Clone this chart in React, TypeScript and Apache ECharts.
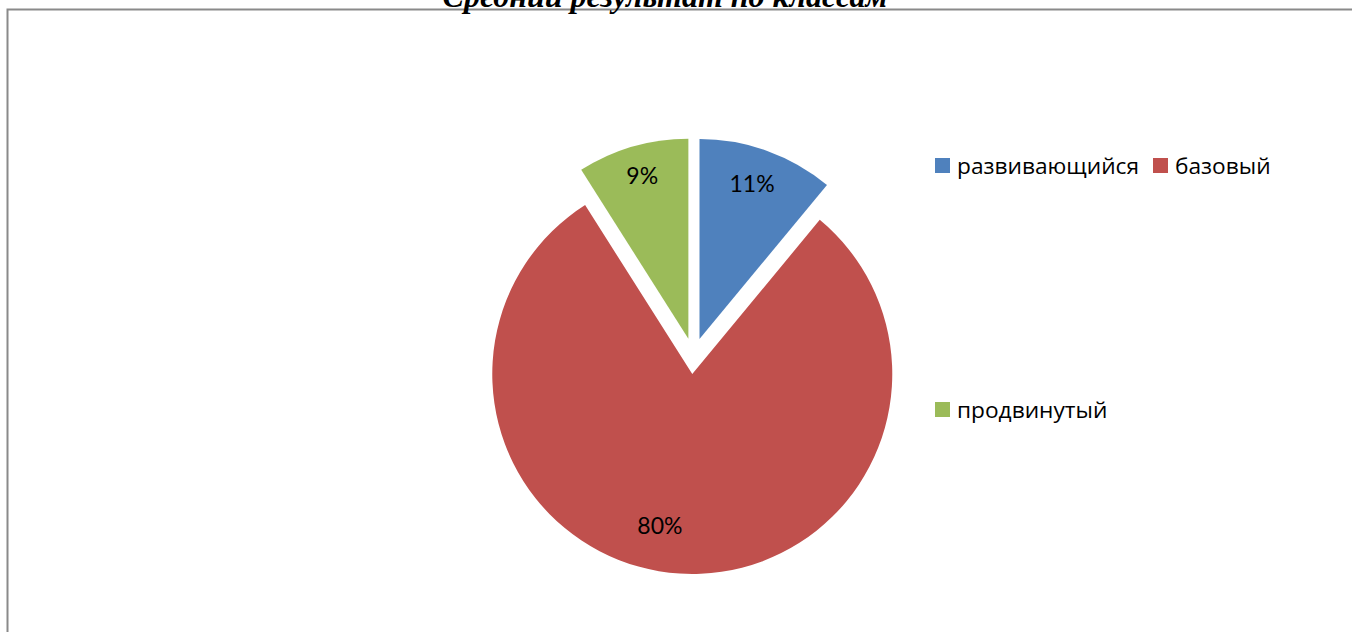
import React, { useEffect, useRef } from "react";
import * as echarts from "echarts";

const categories = ["развивающийся", "базовый", "продвинутый"];
const values = [11, 80, 9];
const colors = ["#4F81BD", "#C0504D", "#9BBB59"];
// label nudges: horizontal via box padding, vertical via a trailing blank line of given height
const labelPaddings = [[0, 7, 0, 0], [0, 44, 0, 0], [0, 0, 0, 0]];
const labelShiftLines = [0, 28, 9];
const legendRow1 = ["развивающийся", "базовый"];
const legendRow2 = ["продвинутый"];
const titleText = "Средний результат по классам";

export default function App() {
  const ref = useRef<HTMLDivElement>(null);
  useEffect(() => {
    if (!ref.current) return;
    const chart = echarts.init(ref.current, null, { renderer: "svg" });
    const font = "Open Sans";
    const legendText = { fontFamily: font, fontSize: 22.7, color: "#000", padding: [0, 0, 0, 2] };
    chart.setOption({
      animation: false,
      graphic: [
        {
          type: "rect",
          shape: { x: 7.5, y: 9.5, width: 2000, height: 2000 },
          style: { fill: "none", stroke: "#8a8a8a", lineWidth: 2 },
          silent: true,
        },
        {
          type: "text",
          x: 665,
          y: 11.7,
          style: {
            text: titleText,
            font: "italic bold 32px 'Liberation Serif'",
            fill: "#000",
            align: "center",
            verticalAlign: "bottom",
          },
          silent: true,
        },
      ],
      legend: [
        {
          data: legendRow1,
          left: 930,
          top: 149,
          orient: "horizontal",
          icon: "rect",
          itemWidth: 15,
          itemHeight: 15,
          itemGap: 14,
          textStyle: legendText,
          selectedMode: false,
        },
        {
          data: legendRow2,
          left: 930,
          top: 393,
          icon: "rect",
          itemWidth: 15,
          itemHeight: 15,
          textStyle: legendText,
          selectedMode: false,
        },
      ],
      series: [
        {
          type: "pie",
          center: [693.4, 356],
          radius: [0, 200],
          startAngle: 90,
          clockwise: true,
          selectedMode: "multiple",
          selectedOffset: 18,
          label: { show: false },
          labelLine: { show: false },
          emphasis: { disabled: true },
          data: categories.map((name, i) => ({
            name,
            value: values[i],
            selected: true,
            itemStyle: { color: colors[i] },
            select: { itemStyle: { color: colors[i] } },
          })),
        },
        {
          type: "pie",
          center: [693.4, 356],
          radius: [125, 200],
          startAngle: 90,
          clockwise: true,
          selectedMode: "multiple",
          selectedOffset: 18,
          silent: true,
          emphasis: { disabled: true },
          itemStyle: { color: "rgba(0,0,0,0)" },
          labelLine: { show: false },
          label: {
            show: true,
            position: "inside",
            formatter: "{d}%",
            fontFamily: "Lato",
            fontSize: 23,
            color: "#000",
          },
          data: categories.map((name, i) => ({
            name,
            value: values[i],
            selected: true,
            label:
              labelShiftLines[i] > 0
                ? { padding: labelPaddings[i], formatter: "{d}%\n ", lineHeight: labelShiftLines[i] }
                : { padding: labelPaddings[i] },
            select: { itemStyle: { color: "rgba(0,0,0,0)" } },
          })),
        },
      ],
    });
    return () => chart.dispose();
  }, []);
  return (
    <div
      ref={ref}
      style={{ position: "absolute", left: 0, top: 0, width: 1352, height: 632, background: "#fff" }}
    />
  );
}
